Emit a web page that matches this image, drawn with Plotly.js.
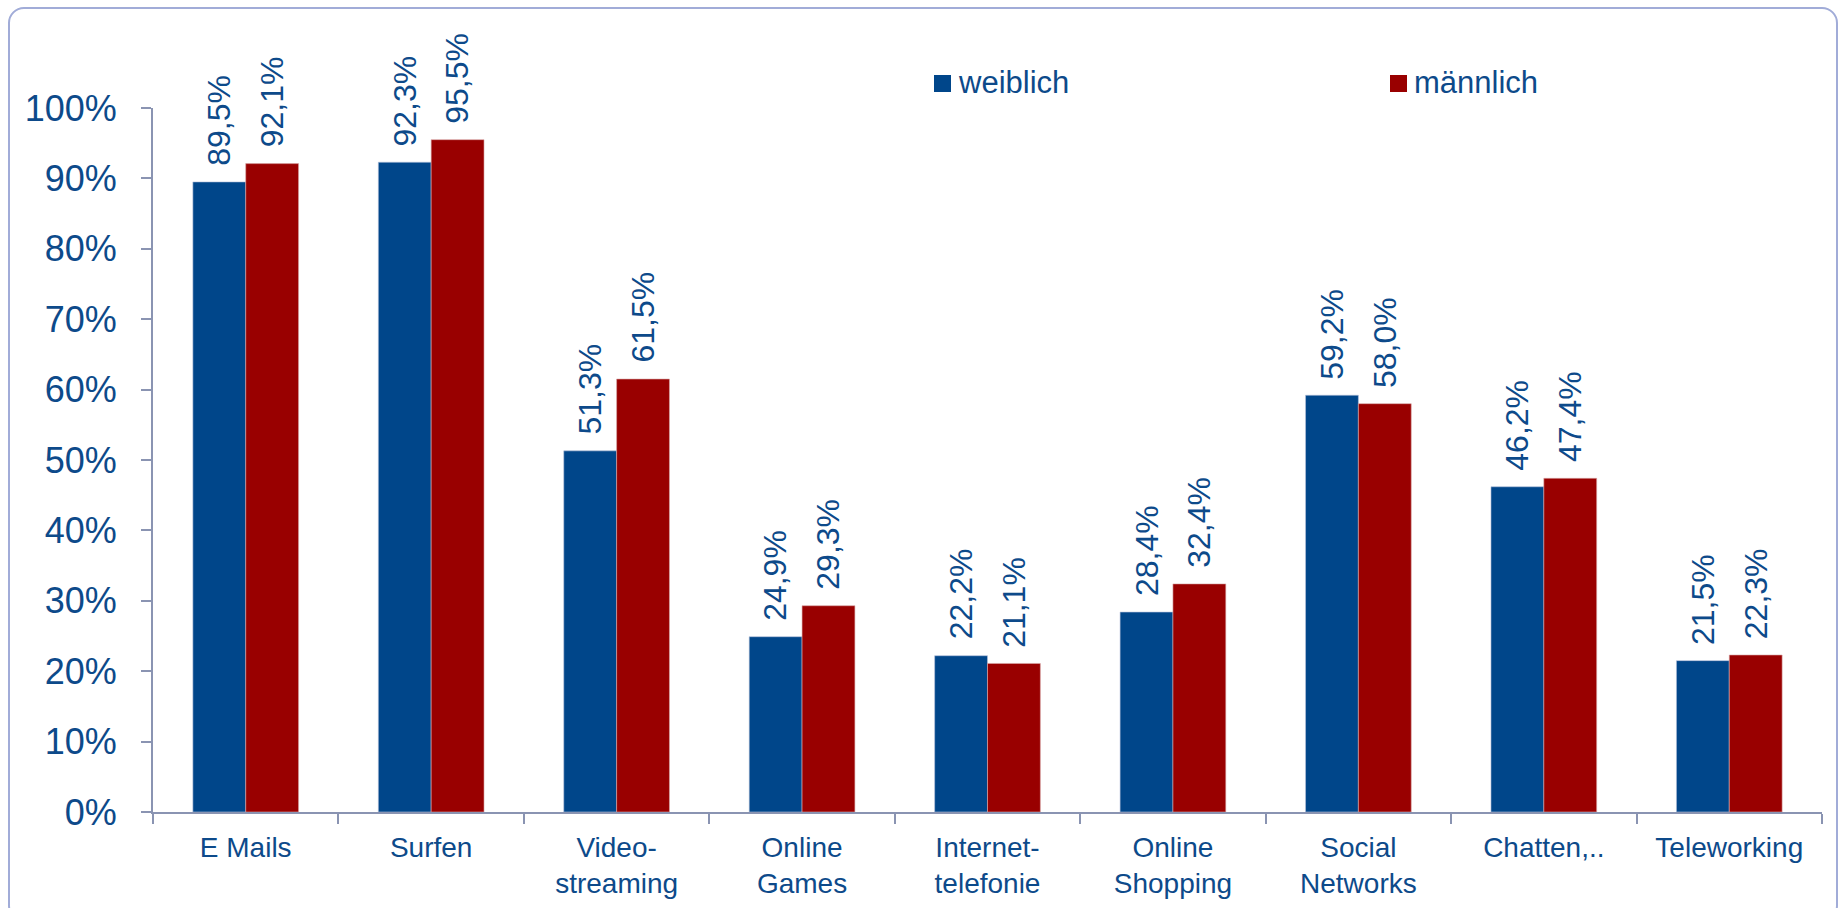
<!DOCTYPE html>
<html>
<head>
<meta charset="utf-8">
<script src="https://cdn.plot.ly/plotly-3.0.1.min.js"></script>
<style>
  html, body { margin: 0; padding: 0; background: #ffffff; overflow: hidden; }
  #frame { position: absolute; left: 8px; top: 7px; width: 1830px; height: 915px;
           border: 2px solid #a1acd8; border-radius: 16px; box-sizing: border-box; pointer-events: none; z-index: 5; }
  #chart { position: absolute; left: 0; top: 0; width: 1843px; height: 908px; }
</style>
</head>
<body>
<div id="frame"></div>
<div id="chart"></div>
<script>
const categories = ["E Mails", "Surfen", "Video-<br>streaming", "Online<br>Games", "Internet-<br>telefonie",
                    "Online<br>Shopping", "Social<br>Networks", "Chatten,..", "Teleworking"];
const weiblich = [89.5, 92.3, 51.3, 24.9, 22.2, 28.4, 59.2, 46.2, 21.5];
const maennlich = [92.1, 95.5, 61.5, 29.3, 21.1, 32.4, 58.0, 47.4, 22.3];
const seriesNames = ["weiblich", "männlich"];
const yTickVals = [0, 10, 20, 30, 40, 50, 60, 70, 80, 90, 100];

const textColor = "#0d4a8a";
const axisColor = "#8a94b2";
const blue = "#00468a";
const red = "#990000";
const colors = [blue, red];
const fontFam = "'Liberation Sans', Arial, sans-serif";

// plot area in pixels (used only to place the custom legend)
const W = 1843, H = 908;
const M = { l: 153, r: 21, t: 108, b: 96 };
const pw = W - M.l - M.r, ph = H - M.t - M.b;
const px2x = p => (p - M.l) / pw;
const py2y = p => (H - M.b - p) / ph;

function fmt(v) { return v.toFixed(1).replace('.', ',') + '%'; }

const traces = [weiblich, maennlich].map((arr, s) => ({
  type: 'bar', name: seriesNames[s], x: categories, y: arr,
  marker: { color: colors[s], line: { color: s === 0 ? '#b9c3dc' : '#d8a9a9', width: 0.6 } },
  hoverinfo: 'skip', showlegend: false
}));

const annotations = [];
const halfBar = 26.4;
[weiblich, maennlich].forEach((arr, s) => {
  arr.forEach((v, i) => {
    annotations.push({
      x: categories[i], y: v, xref: 'x', yref: 'y',
      xshift: s === 0 ? -halfBar : halfBar, yshift: 14,
      text: fmt(v), textangle: -90, showarrow: false,
      xanchor: 'center', yanchor: 'bottom',
      font: { family: fontFam, size: 32, color: textColor }
    });
  });
});

// custom legend (squares + labels)
const legendX = [934, 1390];
const shapes = [];
seriesNames.forEach((name, s) => {
  shapes.push({
    type: 'rect', xref: 'paper', yref: 'paper',
    x0: px2x(legendX[s]), x1: px2x(legendX[s] + 17),
    y0: py2y(92), y1: py2y(75),
    fillcolor: colors[s], line: { width: 0 }
  });
  annotations.push({
    xref: 'paper', yref: 'paper', x: px2x(legendX[s] + 22), y: py2y(82),
    xanchor: 'left', yanchor: 'middle', showarrow: false, text: name,
    font: { family: fontFam, size: 31, color: textColor }
  });
});

const layout = {
  width: W, height: H,
  margin: { l: M.l, r: M.r, t: M.t, b: M.b, pad: 0 },
  paper_bgcolor: '#ffffff', plot_bgcolor: '#ffffff',
  barmode: 'group', bargap: 0.43, bargroupgap: 0,
  showlegend: false,
  xaxis: {
    type: 'category', showline: true, linecolor: axisColor, linewidth: 2,
    ticks: 'outside', tickson: 'boundaries', ticklen: 10, tickcolor: axisColor, tickwidth: 2,
    showgrid: false, zeroline: false, ticklabelstandoff: 9,
    tickfont: { family: fontFam, size: 28, color: textColor }
  },
  yaxis: {
    range: [0, 100], tickvals: yTickVals, ticktext: yTickVals.map(v => v + '%'),
    showline: true, linecolor: axisColor, linewidth: 2,
    ticks: 'outside', ticklen: 10, tickcolor: axisColor, tickwidth: 2,
    showgrid: false, zeroline: false, ticklabelstandoff: 17,
    tickfont: { family: fontFam, size: 36, color: textColor }
  },
  shapes: shapes,
  annotations: annotations
};

Plotly.newPlot('chart', traces, layout, { displayModeBar: false, staticPlot: true });
</script>
</body>
</html>
